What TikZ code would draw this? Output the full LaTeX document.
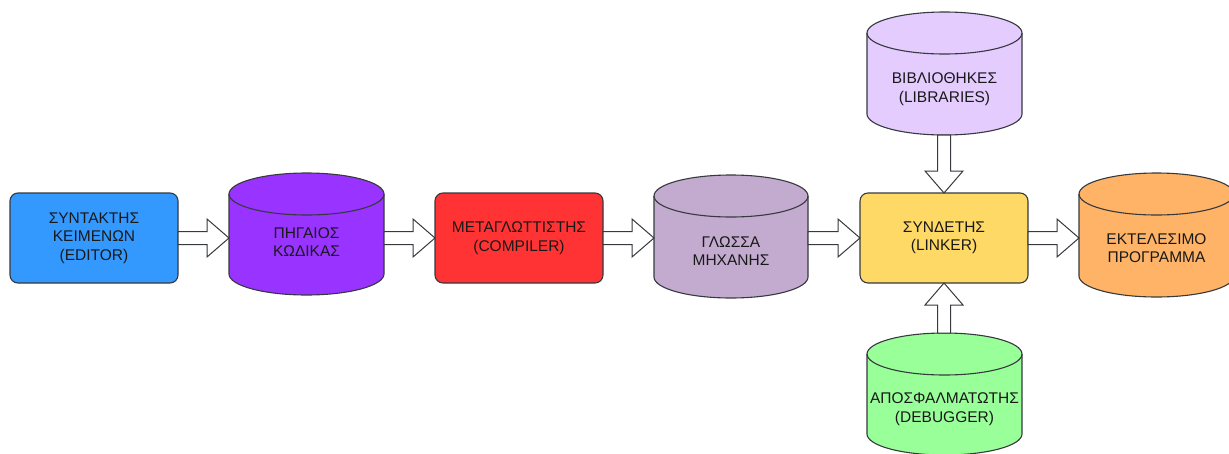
\documentclass[tikz,border=0pt]{standalone}
\usepackage{fontspec}
\setmainfont{Liberation Sans}
\usetikzlibrary{calc}
\definecolor{cEd}{HTML}{3399FF}
\definecolor{cSrc}{HTML}{9933FF}
\definecolor{cComp}{HTML}{FF3333}
\definecolor{cMach}{HTML}{C3ABD0}
\definecolor{cLink}{HTML}{FFD966}
\definecolor{cExe}{HTML}{FFB366}
\definecolor{cLib}{HTML}{E5CCFF}
\definecolor{cDbg}{HTML}{99FF99}
\definecolor{cLine}{HTML}{36393D}
\tikzset{
  lbl/.style={align=center, font=\fontsize{15.5}{18.5}\selectfont, text=black!90, inner sep=0pt},
  procbox/.style={lbl, draw=cLine, line width=1.1pt, rounded corners=8pt,
    minimum width=168pt, minimum height=90pt, outer sep=0pt},
  cylbox/.style={draw=none, inner sep=0pt, outer sep=0pt},
  cylline/.style={draw=cLine, line width=1.1pt},
  blockarrow/.style={draw=cLine, fill=white, line width=1pt, line join=miter},
}
% name, xl, xr, ytop, ybottom, colour, text y, text
\newcommand\dbcyl[8]{%
  \pgfmathsetmacro\cylrx{(#3-#2)/2}%
  \filldraw[cylline, fill=#6] (#2,-#4-21) -- (#2,-#5+21)
    arc[start angle=180, end angle=360, x radius=\cylrx pt, y radius=21pt]
    -- (#3,-#4-21)
    arc[start angle=0, end angle=180, x radius=\cylrx pt, y radius=21pt] -- cycle;
  \draw[cylline] (#2,-#4-21)
    arc[start angle=180, end angle=360, x radius=\cylrx pt, y radius=21pt];
  \node[cylbox, minimum width={#3-#2}, minimum height={#5-#4}] (#1)
    at ({(#2+#3)/2},{-(#4+#5)/2}) {};
  \node[lbl] (#1-t) at ({(#2+#3)/2},-#7) {#8};
}
\newcommand\barrow[2]{%
  \coordinate (bahead) at ($(#2)!22pt!(#1)$);
  \filldraw[blockarrow] ($(#1)!6.5pt!90:(#2)$) -- ($(bahead)!6.5pt!90:(#2)$)
    -- ($(bahead)!19pt!90:(#2)$) -- (#2) -- ($(bahead)!19pt!-90:(#2)$)
    -- ($(bahead)!6.5pt!-90:(#2)$) -- ($(#1)!6.5pt!-90:(#2)$) -- cycle;
}
\begin{document}
\begin{tikzpicture}[x=1pt,y=1pt]
\clip (0,0) rectangle (1229,-453);
\fill[white] (0,0) rectangle (1229,-453);

\node[procbox, fill=cEd] (ed) at (94,-238) {ΣΥΝΤΑΚΤΗΣ\\ΚΕΙΜΕΝΩΝ\\(EDITOR)};
\dbcyl{src}{229}{384}{173}{295}{cSrc}{242}{ΠΗΓΑΙΟΣ\\ΚΩΔΙΚΑΣ}
\node[procbox, fill=cComp] (comp) at (519,-238) {ΜΕΤΑΓΛΩΤΤΙΣΤΗΣ\\(COMPILER)};
\dbcyl{mach}{654}{808}{175}{298}{cMach}{251}{ΓΛΩΣΣΑ\\ΜΗΧΑΝΗΣ}
\node[procbox, fill=cLink] (link) at (944,-238) {ΣΥΝΔΕΤΗΣ\\(LINKER)};
\dbcyl{exe}{1079}{1234}{173}{297}{cExe}{248}{ΕΚΤΕΛΕΣΙΜΟ\\ΠΡΟΓΡΑΜΜΑ}
\dbcyl{lib}{867}{1022}{12}{135}{cLib}{89}{ΒΙΒΛΙΟΘΗΚΕΣ\\(LIBRARIES)}
\dbcyl{dbg}{867}{1022}{333}{455}{cDbg}{409}{ΑΠΟΣΦΑΛΜΑΤΩΤΗΣ\\(DEBUGGER)}

\coordinate (a1) at (src.west |- ed.east);
\coordinate (a2) at (src.east |- comp.west);
\coordinate (a3) at (mach.west |- comp.east);
\coordinate (a4) at (mach.east |- link.west);
\coordinate (a5) at (exe.west |- link.east);
\coordinate (a6) at (lib.south -| link.north);
\coordinate (a7) at (dbg.north -| link.south);

\barrow{ed.east}{a1}
\barrow{a2}{comp.west}
\barrow{comp.east}{a3}
\barrow{a4}{link.west}
\barrow{link.east}{a5}
\barrow{a6}{link.north}
\barrow{a7}{link.south}
\end{tikzpicture}
\end{document}
